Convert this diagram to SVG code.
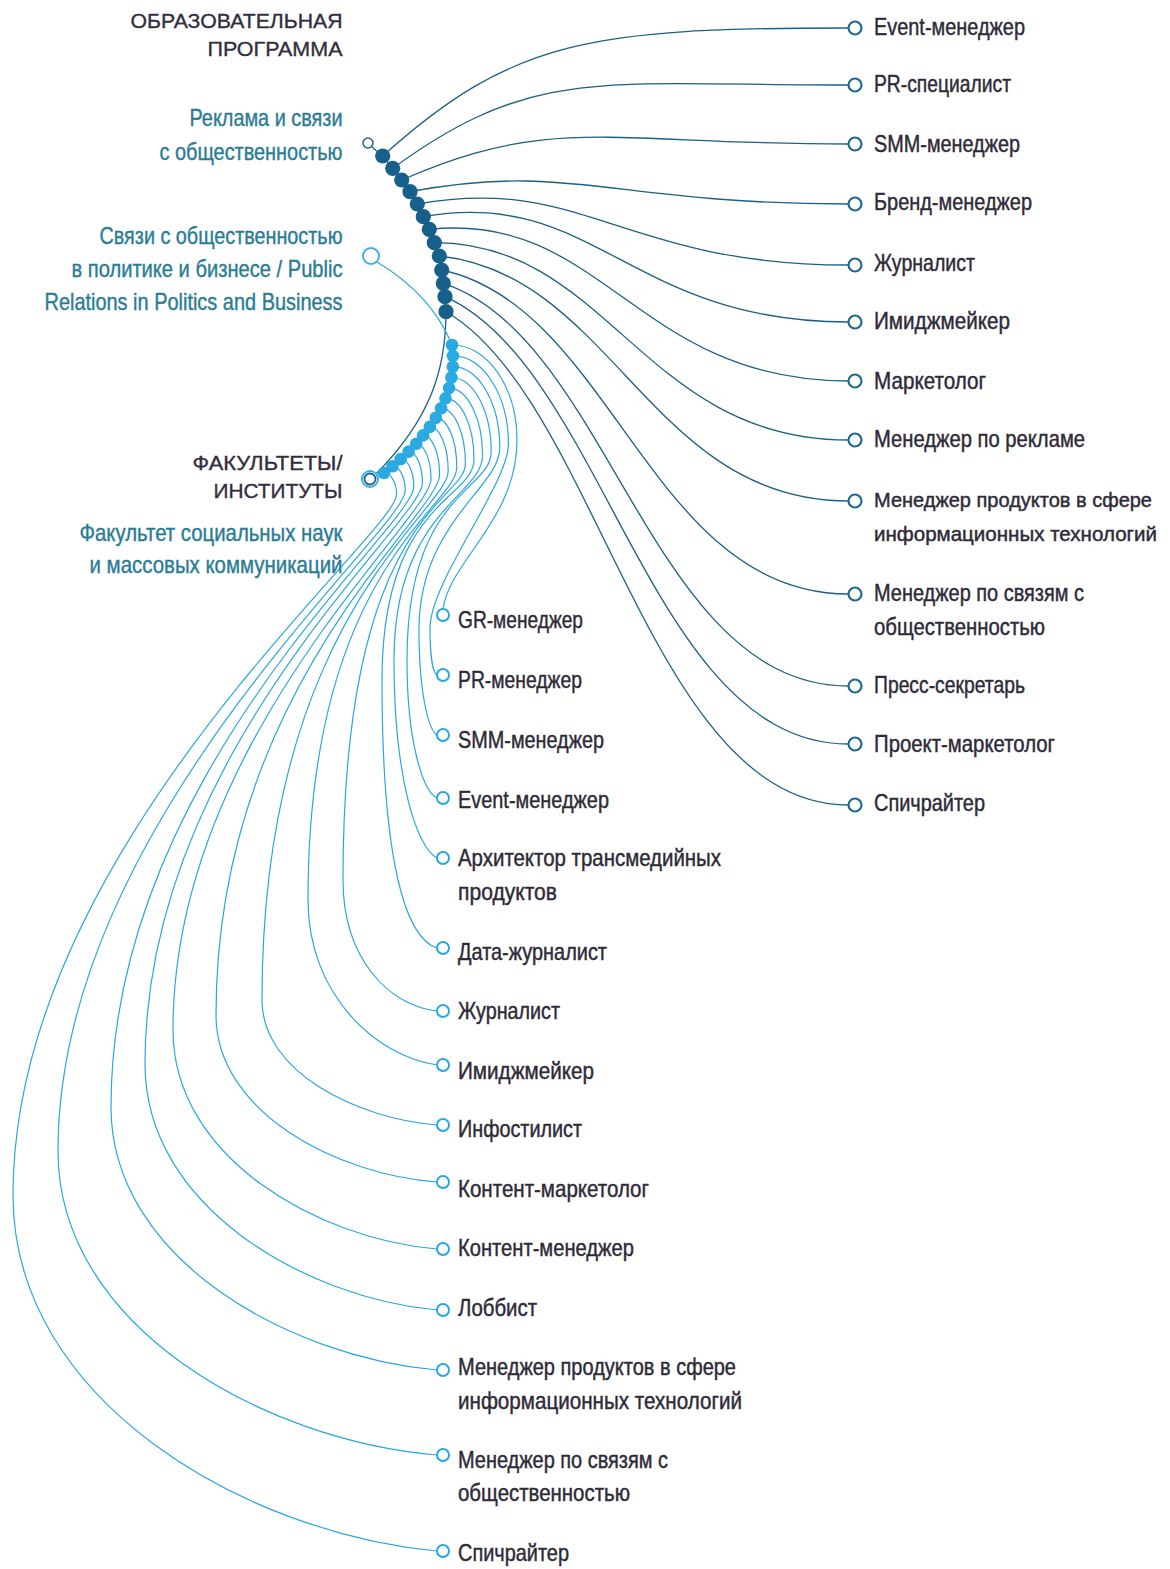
<svg xmlns="http://www.w3.org/2000/svg" width="1170" height="1569" viewBox="0 0 1170 1569">
<style>
.t{font-family:"Liberation Sans",Arial,sans-serif;font-size:24px;fill:#2e2a38;stroke:#2e2a38;stroke-width:0.45}
.p{font-family:"Liberation Sans",Arial,sans-serif;font-size:24px;fill:#2a7c95;stroke:#2a7c95;stroke-width:0.4}
.h{font-family:"Liberation Sans",Arial,sans-serif;font-size:21px;fill:#332d3d;stroke:#332d3d;stroke-width:0.35}
.s{font-size:20.5px}
.dk{fill:none;stroke:#1d5f86;stroke-width:1.3}
.lt{fill:none;stroke:#2aa7df;stroke-width:1.2}
.dd{fill:#17608c}
.ld{fill:#2aaae2}
.rc{fill:#fff;stroke:#1f6a92;stroke-width:2.2}
.bc{fill:#fff;stroke:#2aa7df;stroke-width:2}
</style>
<rect width="1170" height="1569" fill="#fff"/>
<g id="connectors">
<path class="dk" d="M382.7,156 C512.7,38.9 592,28 848.5,28"/>
<path class="dk" d="M392.7,168.3 C534.3,65.4 599.3,85 848.5,85"/>
<path class="dk" d="M401.7,180 C553.3,114 606.5,144 848.5,144"/>
<path class="dk" d="M410,191.7 C569.9,161.7 613.8,204 848.5,204"/>
<path class="dk" d="M417.3,204 C583.7,174 621,265 848.5,265"/>
<path class="dk" d="M423.3,216.7 C594.5,186.7 628.3,322 848.5,322"/>
<path class="dk" d="M429.3,229.3 C603.3,211 635.5,381 848.5,381"/>
<path class="dk" d="M434.3,242.7 C609.3,242.7 642.8,440 848.5,440"/>
<path class="dk" d="M439.3,256 C613.3,274.3 650,501 848.5,501"/>
<path class="dk" d="M441.7,270 C612.9,306.4 650,594 848.5,594"/>
<path class="dk" d="M443.3,283.3 C609.7,337.4 650,686 848.5,686"/>
<path class="dk" d="M445,296.7 C604.9,367.9 650,744 848.5,744"/>
<path class="dk" d="M446,311.7 C597.6,399.2 650,805 848.5,805"/>
<path class="dk" d="M372,147 L382.7,156 L392.7,168.3 L401.7,180 L410,191.7 L417.3,204 L423.3,216.7 L429.3,229.3 L434.3,242.7 L439.3,256 L441.7,270 L443.3,283.3 L445,296.7 L446,311.7 C446,370 430,420 375,475"/>
<path class="lt" d="M377,262 Q432,295 452,345"/>
<path class="lt" d="M452,345 C487.8,345 517,387.8 517,440 C517,520 450,560 443,609"/>
<path class="lt" d="M452.9,355.9 C483.4,355.9 508.4,395.5 508.4,443.9 C508.4,483.9 430,581.5 430,628 C430,656 433,673 437,675"/>
<path class="lt" d="M452.8,366.7 C478.7,366.7 499.8,403.2 499.8,447.8 C499.8,487.8 419,523 419,630 C419,693 428.5,730 437,735"/>
<path class="lt" d="M451.4,377.5 C473.3,377.5 491.2,410.9 491.2,451.7 C491.2,491.7 407,492.4 407,660 C407,743 423,791 437,798"/>
<path class="lt" d="M449,388.1 C467.5,388.1 482.6,418.5 482.6,455.6 C482.6,495.6 394,512 394,660 C394,779 417,848 437,858"/>
<path class="lt" d="M445.5,398.4 C461.2,398.4 474,425.9 474,459.5 C474,499.5 382,502 382,680 C382,860 405,938 437,948"/>
<path class="lt" d="M441.1,408.3 C454.5,408.3 465.4,433.1 465.4,463.4 C465.4,503.4 343,511 343,880 C343,959 389.5,1006 437,1011"/>
<path class="lt" d="M435.8,417.8 C447.4,417.8 456.8,440.1 456.8,467.3 C456.8,507.3 308,568 308,900 C308,996 378,1057 437,1065"/>
<path class="lt" d="M429.8,426.9 C439.9,426.9 448.2,446.8 448.2,471.2 C448.2,511.2 262,615.5 262,1000 C262,1072.5 357.7,1118.8 437,1125"/>
<path class="lt" d="M423.1,435.4 C432.2,435.4 439.6,453.3 439.6,475.1 C439.6,515.1 216,686 216,1015 C216,1112.4 337,1174.6 437,1182"/>
<path class="lt" d="M416.2,443.8 C424.3,443.8 431,459.6 431,479 C431,519 173,738 173,1030 C173,1157.6 317.7,1239 437,1249"/>
<path class="lt" d="M408.6,451.6 C416.2,451.6 422.4,465.7 422.4,482.9 C422.4,522.9 145,750 145,1064 C145,1206.7 305,1297.7 437,1310"/>
<path class="lt" d="M400.7,459 C407.9,459 413.8,471.5 413.8,486.8 C413.8,526.8 111,772 111,1107 C111,1259.5 289.8,1356.9 437,1370"/>
<path class="lt" d="M392.5,466.2 C399.5,466.2 405.2,477.2 405.2,490.7 C405.2,530.7 58,821 58,1151 C58,1327.9 265.9,1440.8 437,1455"/>
<path class="lt" d="M384,473 C390.9,473 396.6,482.7 396.6,494.6 C396.6,534.6 13,847 13,1195 C13,1401.5 245.7,1533.2 437,1551"/>
</g>
<g id="chain-dark">
<circle class="dd" cx="382.7" cy="156" r="7.6"/>
<circle class="dd" cx="392.7" cy="168.3" r="7.6"/>
<circle class="dd" cx="401.7" cy="180" r="7.6"/>
<circle class="dd" cx="410" cy="191.7" r="7.6"/>
<circle class="dd" cx="417.3" cy="204" r="7.6"/>
<circle class="dd" cx="423.3" cy="216.7" r="7.6"/>
<circle class="dd" cx="429.3" cy="229.3" r="7.6"/>
<circle class="dd" cx="434.3" cy="242.7" r="7.6"/>
<circle class="dd" cx="439.3" cy="256" r="7.6"/>
<circle class="dd" cx="441.7" cy="270" r="7.6"/>
<circle class="dd" cx="443.3" cy="283.3" r="7.6"/>
<circle class="dd" cx="445" cy="296.7" r="7.6"/>
<circle class="dd" cx="446" cy="311.7" r="7.6"/>
</g>
<g id="chain-light">
<circle class="ld" cx="452" cy="345" r="6.3"/>
<circle class="ld" cx="452.9" cy="355.9" r="6.3"/>
<circle class="ld" cx="452.8" cy="366.7" r="6.3"/>
<circle class="ld" cx="451.4" cy="377.5" r="6.3"/>
<circle class="ld" cx="449" cy="388.1" r="6.3"/>
<circle class="ld" cx="445.5" cy="398.4" r="6.3"/>
<circle class="ld" cx="441.1" cy="408.3" r="6.3"/>
<circle class="ld" cx="435.8" cy="417.8" r="6.3"/>
<circle class="ld" cx="429.8" cy="426.9" r="6.3"/>
<circle class="ld" cx="423.1" cy="435.4" r="6.3"/>
<circle class="ld" cx="416.2" cy="443.8" r="6.3"/>
<circle class="ld" cx="408.6" cy="451.6" r="6.3"/>
<circle class="ld" cx="400.7" cy="459" r="6.3"/>
<circle class="ld" cx="392.5" cy="466.2" r="6.3"/>
<circle class="ld" cx="384" cy="473" r="6.3"/>
</g>
<g id="header-program">
<text class="h" x="342.5" y="28" text-anchor="end" textLength="212" lengthAdjust="spacingAndGlyphs">ОБРАЗОВАТЕЛЬНАЯ</text>
<text class="h" x="342.5" y="56" text-anchor="end" textLength="135" lengthAdjust="spacingAndGlyphs">ПРОГРАММА</text>
</g>
<g id="program-1">
<circle cx="368" cy="143" r="5" fill="#fff" stroke="#1f6a92" stroke-width="1.6"/>
<text class="p" x="342.5" y="126" text-anchor="end" textLength="153" lengthAdjust="spacingAndGlyphs">Реклама и связи</text>
<text class="p" x="342.5" y="160" text-anchor="end" textLength="183" lengthAdjust="spacingAndGlyphs">с общественностью</text>
</g>
<g id="program-2">
<circle cx="371" cy="256" r="8" fill="#fff" stroke="#3bb0e6" stroke-width="2"/>
<text class="p" x="342.5" y="244" text-anchor="end" textLength="243" lengthAdjust="spacingAndGlyphs">Связи с общественностью</text>
<text class="p" x="342.5" y="277" text-anchor="end" textLength="271" lengthAdjust="spacingAndGlyphs">в политике и бизнесе / Public</text>
<text class="p" x="342.5" y="310" text-anchor="end" textLength="298" lengthAdjust="spacingAndGlyphs">Relations in Politics and Business</text>
</g>
<g id="header-faculty">
<text class="h" x="342.5" y="470" text-anchor="end" textLength="150" lengthAdjust="spacingAndGlyphs">ФАКУЛЬТЕТЫ/</text>
<text class="h" x="342.5" y="498" text-anchor="end" textLength="129" lengthAdjust="spacingAndGlyphs">ИНСТИТУТЫ</text>
</g>
<g id="faculty">
<circle cx="370" cy="479" r="8" fill="#fff" stroke="#3bb0e6" stroke-width="2"/>
<circle cx="370" cy="479" r="5.5" fill="#fff" stroke="#1f5f82" stroke-width="1.8"/>
<text class="p" x="342.5" y="541" text-anchor="end" textLength="263" lengthAdjust="spacingAndGlyphs">Факультет социальных наук</text>
<text class="p" x="342.5" y="573" text-anchor="end" textLength="253" lengthAdjust="spacingAndGlyphs">и массовых коммуникаций</text>
</g>
<g id="r1"><circle class="rc" cx="855" cy="28" r="6.5"/><text class="t" x="874" y="35" textLength="151" lengthAdjust="spacingAndGlyphs">Event-менеджер</text></g>
<g id="r2"><circle class="rc" cx="855" cy="85" r="6.5"/><text class="t" x="874" y="92" textLength="137" lengthAdjust="spacingAndGlyphs">PR-специалист</text></g>
<g id="r3"><circle class="rc" cx="855" cy="144" r="6.5"/><text class="t" x="874" y="152" textLength="146" lengthAdjust="spacingAndGlyphs">SMM-менеджер</text></g>
<g id="r4"><circle class="rc" cx="855" cy="204" r="6.5"/><text class="t" x="874" y="210" textLength="158" lengthAdjust="spacingAndGlyphs">Бренд-менеджер</text></g>
<g id="r5"><circle class="rc" cx="855" cy="265" r="6.5"/><text class="t" x="874" y="271" textLength="101" lengthAdjust="spacingAndGlyphs">Журналист</text></g>
<g id="r6"><circle class="rc" cx="855" cy="322" r="6.5"/><text class="t" x="874" y="329" textLength="136" lengthAdjust="spacingAndGlyphs">Имиджмейкер</text></g>
<g id="r7"><circle class="rc" cx="855" cy="381" r="6.5"/><text class="t" x="874" y="389" textLength="112" lengthAdjust="spacingAndGlyphs">Маркетолог</text></g>
<g id="r8"><circle class="rc" cx="855" cy="440" r="6.5"/><text class="t" x="874" y="447" textLength="211" lengthAdjust="spacingAndGlyphs">Менеджер по рекламе</text></g>
<g id="r9"><circle class="rc" cx="855" cy="501" r="6.5"/><text class="t s" x="874" y="507" textLength="278" lengthAdjust="spacingAndGlyphs">Менеджер продуктов в сфере</text><text class="t s" x="874" y="541" textLength="283" lengthAdjust="spacingAndGlyphs">информационных технологий</text></g>
<g id="r10"><circle class="rc" cx="855" cy="594" r="6.5"/><text class="t" x="874" y="601" textLength="210" lengthAdjust="spacingAndGlyphs">Менеджер по связям с</text><text class="t" x="874" y="635" textLength="171" lengthAdjust="spacingAndGlyphs">общественностью</text></g>
<g id="r11"><circle class="rc" cx="855" cy="686" r="6.5"/><text class="t" x="874" y="693" textLength="151" lengthAdjust="spacingAndGlyphs">Пресс-секретарь</text></g>
<g id="r12"><circle class="rc" cx="855" cy="744" r="6.5"/><text class="t" x="874" y="752" textLength="181" lengthAdjust="spacingAndGlyphs">Проект-маркетолог</text></g>
<g id="r13"><circle class="rc" cx="855" cy="805" r="6.5"/><text class="t" x="874" y="811" textLength="111" lengthAdjust="spacingAndGlyphs">Спичрайтер</text></g>
<g id="b1"><circle class="bc" cx="443" cy="615" r="6"/><text class="t" x="458" y="628" textLength="125" lengthAdjust="spacingAndGlyphs">GR-менеджер</text></g>
<g id="b2"><circle class="bc" cx="443" cy="675" r="6"/><text class="t" x="458" y="688" textLength="124" lengthAdjust="spacingAndGlyphs">PR-менеджер</text></g>
<g id="b3"><circle class="bc" cx="443" cy="735" r="6"/><text class="t" x="458" y="748" textLength="146" lengthAdjust="spacingAndGlyphs">SMM-менеджер</text></g>
<g id="b4"><circle class="bc" cx="443" cy="798" r="6"/><text class="t" x="458" y="808" textLength="151" lengthAdjust="spacingAndGlyphs">Event-менеджер</text></g>
<g id="b5"><circle class="bc" cx="443" cy="858" r="6"/><text class="t" x="458" y="866" textLength="263" lengthAdjust="spacingAndGlyphs">Архитектор трансмедийных</text><text class="t" x="458" y="900" textLength="99" lengthAdjust="spacingAndGlyphs">продуктов</text></g>
<g id="b6"><circle class="bc" cx="443" cy="948" r="6"/><text class="t" x="458" y="960" textLength="149" lengthAdjust="spacingAndGlyphs">Дата-журналист</text></g>
<g id="b7"><circle class="bc" cx="443" cy="1011" r="6"/><text class="t" x="458" y="1019" textLength="102" lengthAdjust="spacingAndGlyphs">Журналист</text></g>
<g id="b8"><circle class="bc" cx="443" cy="1065" r="6"/><text class="t" x="458" y="1079" textLength="136" lengthAdjust="spacingAndGlyphs">Имиджмейкер</text></g>
<g id="b9"><circle class="bc" cx="443" cy="1125" r="6"/><text class="t" x="458" y="1137" textLength="124" lengthAdjust="spacingAndGlyphs">Инфостилист</text></g>
<g id="b10"><circle class="bc" cx="443" cy="1182" r="6"/><text class="t" x="458" y="1197" textLength="191" lengthAdjust="spacingAndGlyphs">Контент-маркетолог</text></g>
<g id="b11"><circle class="bc" cx="443" cy="1249" r="6"/><text class="t" x="458" y="1256" textLength="176" lengthAdjust="spacingAndGlyphs">Контент-менеджер</text></g>
<g id="b12"><circle class="bc" cx="443" cy="1310" r="6"/><text class="t" x="458" y="1316" textLength="79" lengthAdjust="spacingAndGlyphs">Лоббист</text></g>
<g id="b13"><circle class="bc" cx="443" cy="1370" r="6"/><text class="t" x="458" y="1375" textLength="278" lengthAdjust="spacingAndGlyphs">Менеджер продуктов в сфере</text><text class="t" x="458" y="1409" textLength="284" lengthAdjust="spacingAndGlyphs">информационных технологий</text></g>
<g id="b14"><circle class="bc" cx="443" cy="1455" r="6"/><text class="t" x="458" y="1468" textLength="210" lengthAdjust="spacingAndGlyphs">Менеджер по связям с</text><text class="t" x="458" y="1501" textLength="172" lengthAdjust="spacingAndGlyphs">общественностью</text></g>
<g id="b15"><circle class="bc" cx="443" cy="1551" r="6"/><text class="t" x="458" y="1561" textLength="111" lengthAdjust="spacingAndGlyphs">Спичрайтер</text></g>
</svg>
